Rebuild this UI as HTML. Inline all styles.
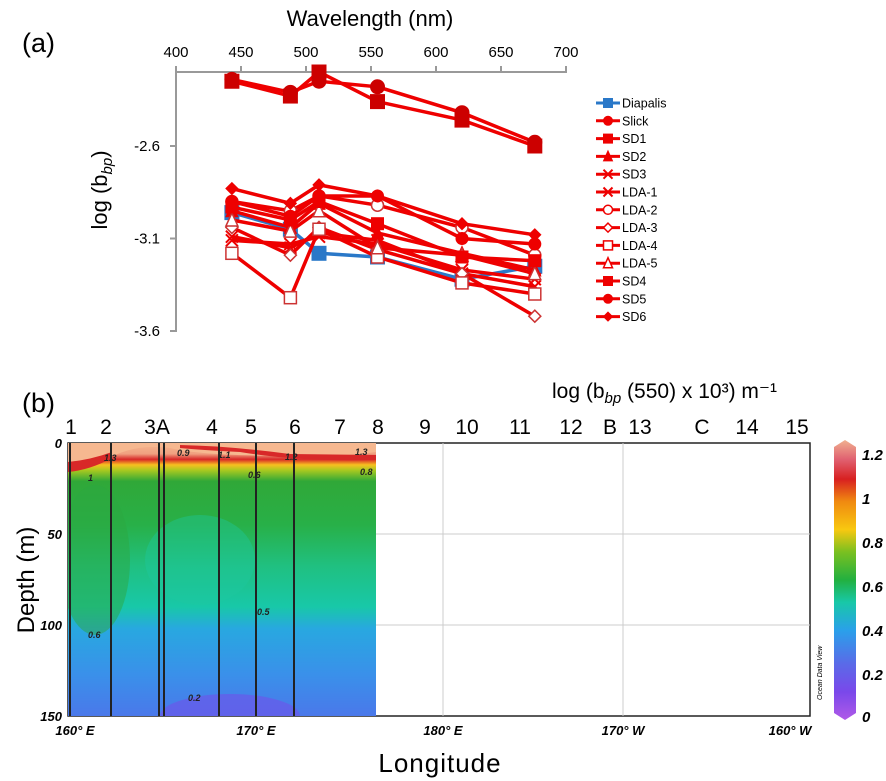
<!DOCTYPE html>
<html><head><meta charset="utf-8"><style>
body{margin:0;background:#fff;font-family:"Liberation Sans",sans-serif}
svg{display:block}
</style></head><body>
<svg id="s" width="886" height="781" viewBox="0 0 886 781" xmlns="http://www.w3.org/2000/svg">
<defs>
<linearGradient id="cb" x1="0" y1="1" x2="0" y2="0">
<stop offset="0" stop-color="#b05ae8"/><stop offset="0.1" stop-color="#7a48ea"/><stop offset="0.2" stop-color="#5a6ae8"/><stop offset="0.32" stop-color="#2aa0ea"/><stop offset="0.42" stop-color="#18c8a8"/><stop offset="0.5" stop-color="#22b040"/><stop offset="0.6" stop-color="#7ac020"/><stop offset="0.68" stop-color="#f8c810"/><stop offset="0.78" stop-color="#f08a10"/><stop offset="0.86" stop-color="#d82020"/><stop offset="0.93" stop-color="#e06070"/><stop offset="1" stop-color="#f0b090"/>
</linearGradient>
<linearGradient id="hm" x1="0" y1="0" x2="0" y2="1">
<stop offset="0" stop-color="#f6b890"/><stop offset="0.04" stop-color="#f0a080"/><stop offset="0.06" stop-color="#d82828"/><stop offset="0.08" stop-color="#f8c020"/><stop offset="0.1" stop-color="#a8c820"/><stop offset="0.14" stop-color="#30a838"/><stop offset="0.3" stop-color="#28b048"/><stop offset="0.45" stop-color="#20c080"/><stop offset="0.6" stop-color="#18c8a8"/><stop offset="0.68" stop-color="#28a8e0"/><stop offset="0.85" stop-color="#3a90ea"/><stop offset="1" stop-color="#4a78ea"/>
</linearGradient>
<clipPath id="hc"><rect x="68" y="443" width="308" height="273"/></clipPath>
</defs>
<text x="22" y="52" font-size="27">(a)</text>
<text x="370" y="26" font-size="22" text-anchor="middle">Wavelength (nm)</text>
<text transform="translate(107,190) rotate(-90)" font-size="22" text-anchor="middle">log (b<tspan font-size="15" font-style="italic" dy="5">bp</tspan><tspan dy="-5">)</tspan></text>
<g id="topChart"></g>
<g id="legend"></g>

<text x="22" y="412" font-size="27">(b)</text>
<text x="552" y="398" font-size="21">log (b<tspan font-size="15" font-style="italic" dy="5">bp</tspan><tspan dy="-5"> (550) x 10³) m⁻¹</tspan></text>
<g id="bottom">
<rect x="68" y="443" width="742" height="273" fill="#fff" stroke="#222" stroke-width="1.5"/>
<path d="M68 534H810M68 625H810M256 443V716M443 443V716M623 443V716" stroke="#ccc" stroke-width="1"/>
<g clip-path="url(#hc)">
<rect x="68" y="443" width="308" height="273" fill="url(#hm)"/>
<ellipse cx="230" cy="716" rx="70" ry="22" fill="#6a58ea" opacity="0.7"/>
<ellipse cx="95" cy="560" rx="35" ry="75" fill="#2ca840" opacity="0.5"/>
<ellipse cx="200" cy="560" rx="55" ry="45" fill="#1ec8a0" opacity="0.4"/>
<path d="M68 443H376V452Q330 458 300 456Q200 456 170 448Q140 444 115 455Q90 460 68 462Z" fill="#f6b890"/>
<path d="M180 445Q230 446 290 454L376 455V460Q300 462 240 452Q200 450 180 448Z" fill="#d82828"/>
<path d="M68 462Q90 460 112 452V458Q90 470 68 472Z" fill="#d82828"/>
</g>
<path d="M70 443V716M111 443V716M159 443V716M164 443V716M219 443V716M256 443V716M294 443V716" stroke="#222" stroke-width="2"/>
<g font-size="9" font-style="italic" font-weight="bold" fill="#222">
<text x="177" y="456">0.9</text><text x="218" y="458">1.1</text><text x="285" y="460">1.2</text><text x="355" y="455">1.3</text><text x="248" y="478">0.6</text><text x="88" y="638">0.6</text><text x="257" y="615">0.5</text><text x="188" y="701">0.2</text><text x="104" y="461">1.3</text><text x="88" y="481">1</text><text x="360" y="475">0.8</text>
</g>
<g font-size="13" font-weight="bold" font-style="italic" text-anchor="end">
<text x="62" y="448">0</text><text x="62" y="539">50</text><text x="62" y="630">100</text><text x="62" y="721">150</text></g>
<g font-size="13" font-weight="bold" font-style="italic" text-anchor="middle">
<text x="75" y="735">160° E</text><text x="256" y="735">170° E</text><text x="443" y="735">180° E</text><text x="623" y="735">170° W</text><text x="790" y="735">160° W</text></g>
<g font-size="21" text-anchor="middle">
<text x="71" y="434">1</text><text x="106" y="434">2</text><text x="157" y="434">3A</text><text x="212" y="434">4</text><text x="251" y="434">5</text><text x="295" y="434">6</text><text x="340" y="434">7</text><text x="378" y="434">8</text><text x="425" y="434">9</text><text x="467" y="434">10</text><text x="520" y="434">11</text><text x="571" y="434">12</text><text x="610" y="434">B</text><text x="640" y="434">13</text><text x="702" y="434">C</text><text x="747" y="434">14</text><text x="797" y="434">15</text></g>
<text transform="translate(34,580) rotate(-90)" font-size="24" text-anchor="middle">Depth (m)</text>
<text x="440" y="772" font-size="26" text-anchor="middle" letter-spacing="1">Longitude</text>
<text transform="translate(822,700) rotate(-90)" font-size="7" font-style="italic">Ocean Data View</text>
</g>
<g>
<path d="M834 447L845 440L856 447V713L845 720L834 713Z" fill="url(#cb)"/>
<g font-size="15" font-weight="bold" font-style="italic">
<text x="862" y="460">1.2</text><text x="862" y="504">1</text><text x="862" y="548">0.8</text><text x="862" y="592">0.6</text><text x="862" y="636">0.4</text><text x="862" y="680">0.2</text><text x="862" y="722">0</text></g>
</g>
</svg>
<script>
const wavelengths=[443,488,510,555,620,676];
const seriesNames=["Diapalis","Slick","SD1","SD2","SD3","LDA-1","LDA-2","LDA-3","LDA-4","LDA-5","SD4","SD5","SD6"];
const diapalis=[-2.96,-3.05,-3.18,-3.2,-3.32,-3.25];
const slick=[-2.24,-2.31,-2.25,-2.28,-2.42,-2.58];
const sd1=[-2.25,-2.33,-2.2,-2.36,-2.46,-2.6];
const sd2=[-2.95,-3.04,-2.91,-3.07,-3.18,-3.27];
const sd3=[-3.09,-3.15,-3.07,-3.11,-3.29,-3.36];
const lda1=[-3.11,-3.13,-3.09,-3.13,-3.27,-3.32];
const lda2=[-2.9,-2.95,-2.87,-2.92,-3.04,-3.19];
const lda3=[-3.04,-3.19,-3.04,-3.16,-3.29,-3.52];
const lda4=[-3.18,-3.42,-3.05,-3.2,-3.34,-3.4];
const lda5=[-3.0,-3.06,-2.95,-3.15,-3.19,-3.29];
const sd4=[-2.93,-3.0,-2.9,-3.02,-3.2,-3.22];
const sd5=[-2.9,-2.98,-2.87,-2.87,-3.1,-3.13];
const sd6=[-2.83,-2.91,-2.81,-2.87,-3.02,-3.08];
const xTicks=[400,450,500,550,600,650,700];
const yTicks=[-2.6,-3.1,-3.6];
const allSeries=[diapalis,slick,sd1,sd2,sd3,lda1,lda2,lda3,lda4,lda5,sd4,sd5,sd6];
const markers=["sq","circ","sq","tri","x","x","ocirc","odia","osq","otri","sq","circ","dia"];
const NS="http://www.w3.org/2000/svg";
const xs=v=>176+(v-400)*1.3;
const ys=v=>146-(v+2.6)*185;
function mk(t,a,p){const e=document.createElementNS(NS,t);for(const k in a)e.setAttribute(k,a[k]);p.appendChild(e);return e;}
const topG=document.getElementById('topChart');
const ax=mk('path',{d:`M176 68V72H566V68M176 72V331H170`,stroke:'#999',fill:'none','stroke-width':2},topG);


xTicks.forEach(t=>{mk('path',{d:`M${xs(t)} 66V72`,stroke:'#999','stroke-width':2},topG);
const tx=mk('text',{x:xs(t),y:57,'font-size':15,'text-anchor':'middle'},topG);tx.textContent=t;

});
yTicks.forEach(t=>{mk('path',{d:`M170 ${ys(t)}H176`,stroke:'#999','stroke-width':2},topG);
const tx=mk('text',{x:160,y:ys(t)+5,'font-size':15,'text-anchor':'end'},topG);tx.textContent=t.toFixed(1);

});
function marker(g,type,x,y,col,s){
 const open=type[0]=='o';const f=open?'#fff':col;const sw=open?1.5:1;const t=open?type.slice(1):type;
 if(t=='sq')mk('rect',{x:x-s,y:y-s,width:2*s,height:2*s,fill:f,stroke:col,'stroke-width':sw},g);
 else if(t=='circ')mk('circle',{cx:x,cy:y,r:s,fill:f,stroke:col,'stroke-width':sw},g);
 else if(t=='tri')mk('path',{d:`M${x} ${y-s-1}L${x+s} ${y+s}L${x-s} ${y+s}Z`,fill:f,stroke:col,'stroke-width':sw},g);
 else if(t=='dia')mk('path',{d:`M${x} ${y-s}L${x+s} ${y}L${x} ${y+s}L${x-s} ${y}Z`,fill:f,stroke:col,'stroke-width':sw},g);
 else if(t=='x')mk('path',{d:`M${x-s} ${y-s}L${x+s} ${y+s}M${x+s} ${y-s}L${x-s} ${y+s}`,stroke:col,'stroke-width':2},g);
}
allSeries.forEach((vals,i)=>{
 const col=i==0?'#2a78c8':'#ee0000';
 const g=mk('g',{},topG);
 
 
 mk('polyline',{points:vals.map((v,j)=>xs(wavelengths[j])+','+ys(v)).join(' '),fill:'none',stroke:col,'stroke-width':3.5},g);
 const mc=i==0?'#2a78c8':(i<3?'#cc0000':(markers[i][0]=='o'?'#cc3333':'#ee0000'));
 vals.forEach((v,j)=>marker(g,markers[i],xs(wavelengths[j]),ys(v),mc,i<3?7:6));
});
const lg=document.getElementById('legend');
seriesNames.forEach((n,i)=>{
 const y=103+i*17.8;const col=i==0?'#2a78c8':'#ee0000';
 const g=mk('g',{},lg);
 
 
 mk('path',{d:`M596 ${y}H620`,stroke:col,'stroke-width':3},g);
 marker(g,markers[i],608,y,i==0?'#2a78c8':'#ee0000',4.5);
 const t=mk('text',{x:622,y:y+4.5,'font-size':12.5},g);t.textContent=n;
});
</script>
</body></html>
